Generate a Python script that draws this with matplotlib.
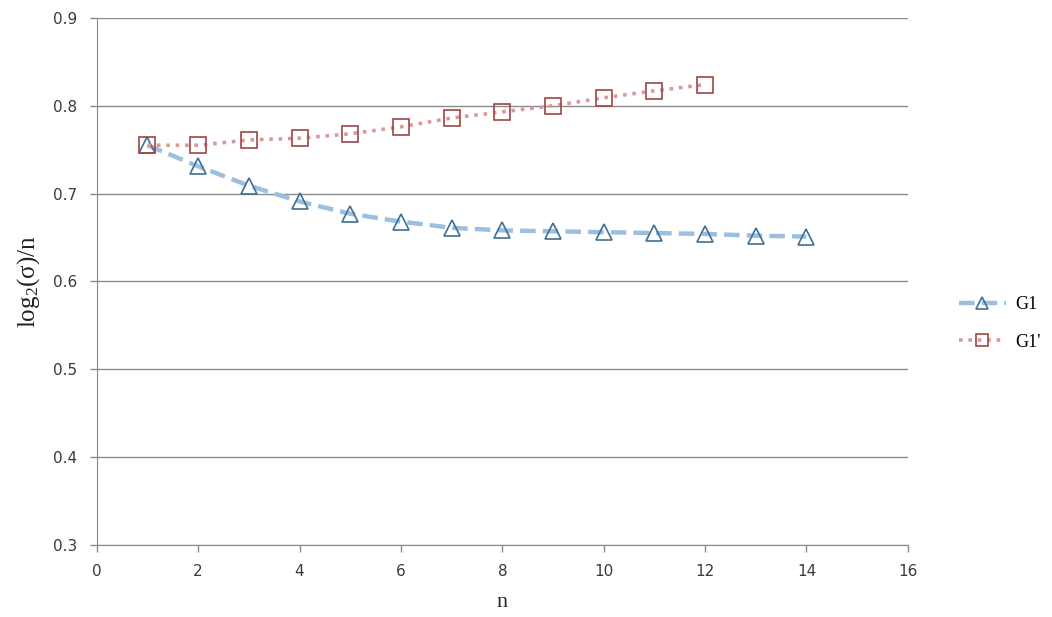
import matplotlib
matplotlib.use("Agg")
import matplotlib.pyplot as plt

n_g1 = [1, 2, 3, 4, 5, 6, 7, 8, 9, 10, 11, 12, 13, 14]
g1 = [0.755, 0.731, 0.709, 0.691, 0.677, 0.668, 0.661, 0.658, 0.657, 0.656, 0.655, 0.654, 0.652, 0.651]
n_g1p = [1, 2, 3, 4, 5, 6, 7, 8, 9, 10, 11, 12]
g1p = [0.755, 0.755, 0.761, 0.763, 0.768, 0.776, 0.786, 0.793, 0.800, 0.809, 0.817, 0.824]
xticks = [0, 2, 4, 6, 8, 10, 12, 14, 16]
yticks = [0.3, 0.4, 0.5, 0.6, 0.7, 0.8, 0.9]

plt.rcParams['mathtext.fontset'] = 'custom'
plt.rcParams['mathtext.rm'] = 'Liberation Serif'
plt.rcParams['mathtext.it'] = 'Liberation Serif'

fig = plt.figure(figsize=(10.52, 6.17), dpi=100)
ax = fig.add_axes([0.092, 0.117, 0.771, 0.854])

ax.plot(n_g1, g1, linestyle=(0, (3.5, 1.6)), color='#9dbfdf', linewidth=3.2,
        marker='^', markersize=12, markerfacecolor='none', markeredgecolor='#3f6f94',
        markeredgewidth=1.2, label='G1', zorder=3)
ax.plot(n_g1p, g1p, linestyle=(0, (1, 1.6)), color='#d9999a', linewidth=2.6,
        marker='s', markersize=11, markerfacecolor='none', markeredgecolor='#a04545',
        markeredgewidth=1.2, label="G1'", zorder=3)

ax.set_xlim(0, 16)
ax.set_ylim(0.3, 0.9)
ax.set_xticks(xticks)
ax.set_yticks(yticks)
ax.set_xticklabels([str(t) for t in xticks])
ax.set_yticklabels([f"{t:.1f}" for t in yticks])
ax.yaxis.grid(True, color='#8a8a8a', linewidth=1.0)
ax.set_axisbelow(True)
for s in ['top', 'right']:
    ax.spines[s].set_visible(False)
for s in ['left', 'bottom']:
    ax.spines[s].set_color('#8a8a8a')
ax.tick_params(axis='both', colors='#8a8a8a', length=5, width=1, labelcolor='#3a3a3a',
               labelsize=11, direction='out')
ax.tick_params(axis='x', pad=9)
ax.tick_params(axis='y', pad=9)

ax.set_xlabel('n', fontfamily='Liberation Serif', fontsize=16, color='#222222', labelpad=10)
ax.set_ylabel(r'log$_2$(σ)/n', fontfamily='Liberation Serif', fontsize=18, color='#222222', labelpad=8)

leg = fig.legend(loc='center left', bbox_to_anchor=(0.896, 0.476), frameon=False,
                 prop={'family': 'Liberation Serif', 'size': 13}, handlelength=2.6,
                 handletextpad=0.5, labelspacing=1.15, markerscale=0.75)

fig.savefig('out.png', dpi=100)
